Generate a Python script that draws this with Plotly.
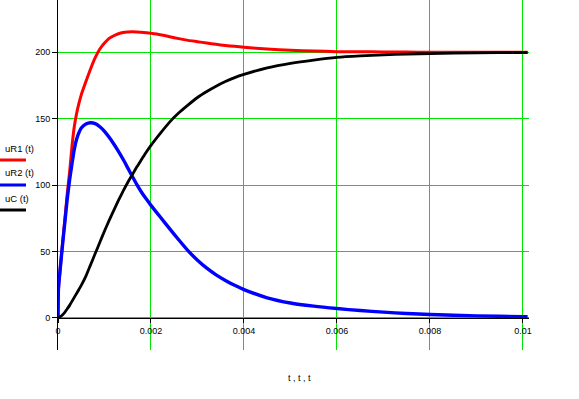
import plotly.graph_objects as go

# ---- data ----
t = [0, 0.00001, 0.00005, 0.0001, 0.00015, 0.0002, 0.00025, 0.0003, 0.00035,
     0.0004, 0.00045, 0.0005, 0.0006, 0.0007, 0.0008, 0.0009, 0.001, 0.0011,
     0.0012, 0.0013, 0.0014, 0.0015, 0.0016, 0.0017, 0.0018, 0.0019, 0.002,
     0.0022, 0.0024, 0.0026, 0.0028, 0.003, 0.0032, 0.0034, 0.0036, 0.0038,
     0.004, 0.0045, 0.005, 0.0055, 0.006, 0.0065, 0.007, 0.0075, 0.008,
     0.009, 0.01, 0.0101]

uR1 = [0, 22, 38, 57, 75, 94, 110, 129, 144,
       154, 161.5, 168, 178, 187.5, 196, 202.5, 207, 210.5,
       212.5, 214, 214.9, 215.3, 215.5, 215.4, 215.2, 214.8, 214.3,
       213.2, 211.8, 210.3, 209, 208, 207, 206, 205.2, 204.5,
       203.8, 202.5, 201.6, 201, 200.5, 200.4, 200.3, 200.2, 200.1,
       200, 200, 200]

uR2 = [0, 22, 38, 56, 73, 90, 104, 116, 127,
       134.5, 139.5, 143, 146, 147, 146.3, 144, 140.5, 136,
       131, 125.5, 119.5, 113, 106.5, 100.2, 94.5, 89.5, 84.8,
       76, 67.3, 58.7, 50.5, 43.5, 37.5, 32.5, 28.3, 24.6,
       21.4, 15.2, 11.3, 8.9, 7.1, 5.6, 4.4, 3.4, 2.6,
       1.6, 1.0, 1.0]

uC = [0, 0.05, 1, 2.5, 4.5, 7, 9.5, 12.5, 15.5,
      18.5, 21.5, 24.5, 31.5, 40, 48.5, 57, 65.5, 73.5,
      81, 88.5, 95.5, 102, 108, 114, 119.5, 125, 130,
      139, 147.5, 154.5, 160.5, 166, 170.5, 174.5, 178, 181,
      183.4, 188.3, 191.7, 194.2, 196.2, 197.3, 198.1, 198.7, 199.1,
      199.6, 199.8, 199.8]

trace_names = ["uR1 (t)", "uR2 (t)", "uC (t)"]
trace_colors = ["#ff0000", "#0000ff", "#000000"]

x_tick_vals = [0, 0.002, 0.004, 0.006, 0.008, 0.01]
x_tick_text = ["0", "0.002", "0.004", "0.006", "0.008", "0.01"]
y_tick_vals = [0, 50, 100, 150, 200]
y_tick_text = ["0", "50", "100", "150", "200"]
x_title = "t , t , t"

X_RANGE = [0, 0.01013]
Y_RANGE = [-24.1, 239.4]

# ---- layout geometry ----
W, H = 579, 399
ML, MR, MT, MB = 58, 50, 0, 49
PW, PH = W - ML - MR, H - MT - MB
FONT = "Arial, Liberation Sans, sans-serif"
GRID = "#00e600"

def px_x(px):
    return (px - ML) / PW

def px_y(py):
    return (H - MB - py) / PH

fig = go.Figure()
for name, ys, col, w in zip(trace_names, [uR1, uR2, uC], trace_colors, [3, 3.4, 2.8]):
    fig.add_trace(go.Scatter(x=t, y=ys, mode="lines", name=name,
                             line=dict(color=col, width=w, shape="spline", smoothing=0.6),
                             showlegend=False))

zero_pos = (0 - Y_RANGE[0]) / (Y_RANGE[1] - Y_RANGE[0])

fig.update_layout(
    width=W, height=H,
    margin=dict(l=ML, r=MR, t=MT, b=MB, pad=0),
    paper_bgcolor="white", plot_bgcolor="white",
    font=dict(family=FONT, size=9, color="black"),
    xaxis=dict(range=X_RANGE, tickvals=x_tick_vals, ticktext=x_tick_text,
               showgrid=True, gridcolor=GRID, gridwidth=1,
               zeroline=False, showline=True, linecolor="black", linewidth=1,
               ticks="outside", ticklen=4, tickcolor="black",
               anchor="free", position=zero_pos,
               tickfont=dict(size=9)),
    yaxis=dict(range=Y_RANGE, tickvals=y_tick_vals, ticktext=y_tick_text,
               showgrid=True, gridcolor=GRID, gridwidth=1,
               zeroline=False, showline=True, linecolor="black", linewidth=1,
               ticks="outside", ticklen=5, tickcolor="black",
               tickfont=dict(size=9)),
)

# trace labels on the left (Mathcad style)
label_y = [148, 172.7, 198]
line_y = [160, 185, 210]
for name, col, ly, ln in zip(trace_names, trace_colors, label_y, line_y):
    fig.add_annotation(text=name, xref="paper", yref="paper",
                       x=px_x(3), y=px_y(ly), xanchor="left", yanchor="middle",
                       showarrow=False, font=dict(size=9.5, color="black"))
    fig.add_shape(type="line", xref="paper", yref="paper",
                  x0=px_x(0), x1=px_x(26), y0=px_y(ln), y1=px_y(ln),
                  line=dict(color=col, width=3))

fig.add_annotation(text=x_title, xref="paper", yref="paper",
                   x=px_x(299.5), y=px_y(377.7), xanchor="center", yanchor="middle",
                   showarrow=False, font=dict(size=9, color="black"))

fig.write_html("out.html", config={"displayModeBar": False},
               post_script="document.body.style.margin='0';document.body.style.padding='0';")
